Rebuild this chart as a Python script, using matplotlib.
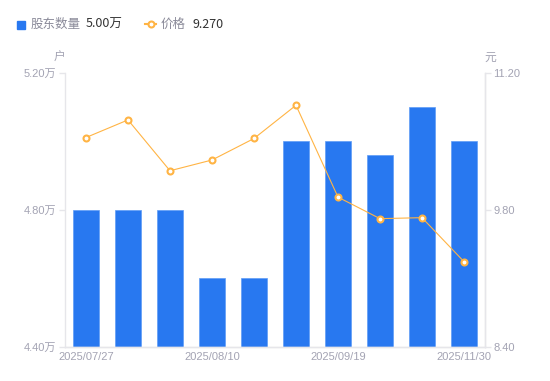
import matplotlib
matplotlib.use("Agg")
import matplotlib.pyplot as plt
from matplotlib.lines import Line2D
from matplotlib.patches import Rectangle

plt.rcParams["font.family"] = ["Noto Sans CJK SC", "DejaVu Sans"]

# Data
dates = ["2025/07/27", "2025/07/31", "2025/08/05", "2025/08/10", "2025/08/20",
         "2025/08/31", "2025/09/19", "2025/09/30", "2025/10/31", "2025/11/30"]
holders = [4.80, 4.80, 4.80, 4.60, 4.60, 5.00, 5.00, 4.96, 5.10, 5.00]  # 万户
price = [10.54, 10.72, 10.20, 10.31, 10.53, 10.87, 9.93, 9.71, 9.72, 9.27]  # 元
left_ticks = [4.40, 4.80, 5.20]
right_ticks = [8.40, 9.80, 11.20]
shown_idx = [0, 3, 6, 9]

BLUE = "#2878f0"
ORANGE = "#ffb444"
GRID = "#e6e6ea"
LABEL = "#a3a3b3"
TICKFONT = ["Liberation Sans", "Noto Sans CJK SC"]

fig = plt.figure(figsize=(5.5, 3.81), dpi=100)
ax = fig.add_axes([65 / 550, 1 - 346.7 / 381, 420 / 550, 273.7 / 381])
ax2 = ax.twinx()

x = list(range(len(dates)))
ax.bar(x, holders, width=0.6, color=BLUE, edgecolor="#5f9cf6", linewidth=0.5,
       zorder=2)
ax.set_ylim(4.40, 5.20)
ax.set_xlim(-0.5, len(dates) - 0.5)
ax.set_yticks(left_ticks)
ax.set_yticklabels([f"{v:.2f}万" for v in left_ticks], family=TICKFONT)
ax.set_xticks(shown_idx)
ax.set_xticklabels([dates[i] for i in shown_idx], family=TICKFONT)

ax2.plot(x, price, color=ORANGE, linewidth=0.8, marker="o", markersize=4.3,
         markerfacecolor="white", markeredgecolor=ORANGE, markeredgewidth=1.5,
         zorder=3)
ax2.set_ylim(8.40, 11.20)
ax2.set_yticks(right_ticks)
ax2.set_yticklabels([f"{v:.2f}" for v in right_ticks], family=TICKFONT)

for a in (ax, ax2):
    for s in a.spines.values():
        s.set_color(GRID)
        s.set_linewidth(1)
    a.spines["top"].set_visible(False)
    a.tick_params(colors=GRID, labelcolor=LABEL, labelsize=8, length=4,
                  width=1, pad=2)
ax.tick_params(axis="x", length=0, pad=4)
ax2.spines["left"].set_visible(False)

# unit labels
fig.text(59 / 550, 1 - 57 / 381, "户", color=LABEL, fontsize=8.5,
         ha="center", va="center")
fig.text(490 / 550, 1 - 57 / 381, "元", color=LABEL, fontsize=8.5,
         ha="center", va="center")

# legend
ly = 1 - 24 / 381
fig.patches.append(Rectangle((17 / 550, 1 - 28.5 / 381), 8 / 550, 8 / 381,
                             transform=fig.transFigure, color=BLUE))
fig.text(31 / 550, ly, "股东数量", color="#8a8a99", fontsize=9, va="center")
fig.text(86 / 550, ly, f"{holders[-1]:.2f}万", color="#333333", fontsize=9,
         va="center")
fig.lines.append(Line2D([145 / 550, 156 / 550], [ly, ly], transform=fig.transFigure,
                        color=ORANGE, linewidth=1.5))
fig.lines.append(Line2D([150.5 / 550], [ly], transform=fig.transFigure,
                        color=ORANGE, marker="o", markersize=4.3,
                        markerfacecolor="white", markeredgewidth=1.5))
fig.text(161 / 550, ly, "价格", color="#8a8a99", fontsize=9, va="center")
fig.text(192 / 550, ly, f"{price[-1]:.3f}", color="#333333", fontsize=9,
         va="center")

fig.savefig("out.png", dpi=100)
